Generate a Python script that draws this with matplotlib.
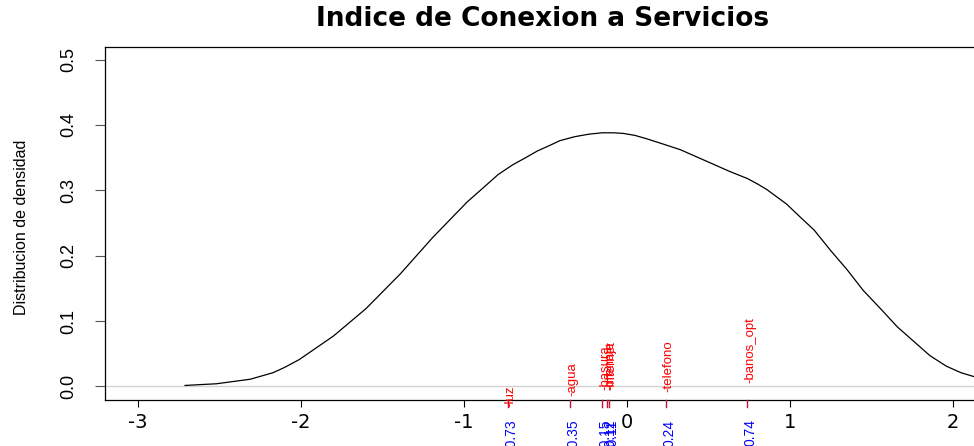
import numpy as np
import matplotlib
matplotlib.use("Agg")
import matplotlib.pyplot as plt
from matplotlib.transforms import offset_copy

plt.rcParams['font.family'] = ['DejaVu Sans']
plt.rcParams['axes.unicode_minus'] = False

NARROW = ['Liberation Sans', 'DejaVu Sans']

# Density curve
curve_x = [-2.71, -2.60, -2.52, -2.40, -2.31, -2.17, -2.10, -2.01, -1.80, -1.60,
           -1.39, -1.19, -0.98, -0.88, -0.79, -0.70, -0.62, -0.55, -0.47, -0.41,
           -0.32, -0.23, -0.15, -0.08, -0.02, 0.05, 0.12, 0.22, 0.33, 0.43,
           0.53, 0.63, 0.74, 0.80, 0.86, 0.92, 0.98, 1.06, 1.15, 1.25,
           1.35, 1.45, 1.56, 1.66, 1.76, 1.86, 1.96, 2.05, 2.13, 2.25]
curve_y = [0.0015, 0.003, 0.004, 0.008, 0.011, 0.021, 0.029, 0.041, 0.077, 0.119,
           0.172, 0.228, 0.282, 0.304, 0.324, 0.339, 0.350, 0.360, 0.369, 0.376,
           0.382, 0.386, 0.388, 0.388, 0.387, 0.384, 0.379, 0.371, 0.362, 0.351,
           0.340, 0.329, 0.318, 0.310, 0.301, 0.290, 0.279, 0.260, 0.239, 0.208,
           0.179, 0.147, 0.118, 0.091, 0.069, 0.047, 0.031, 0.021, 0.015, 0.009]

# Variables and their loadings
var_names = ["luz", "agua", "basura", "drenaje", "internet", "telefono", "banos_opt"]
var_values = [-0.73, -0.35, -0.15, -0.12, -0.11, 0.24, 0.74]
var_text = ["-0.73", "-0.35", "-0.15", "-0.12", "-0.11", "0.24", "0.74"]

x_ticks = [-3, -2, -1, 0, 1, 2]
y_ticks = [0.0, 0.1, 0.2, 0.3, 0.4, 0.5]

# label baseline heights (layout only)
label_base = [-0.032, -0.015, -0.006, -0.005, -0.005, -0.008, 0.006]

W, H = 974, 446
fig = plt.figure(figsize=(W / 100, H / 100), dpi=100)
left, right, top, bottom = 104.5, 982, 46.5, 399.5
ax = fig.add_axes([left / W, 1 - bottom / H, (right - left) / W, (bottom - top) / H])

ax.set_xlim(-3.204, 2.179)
ax.set_ylim(-0.02, 0.52)

ax.axhline(0, color="#d3d3d3", lw=1.0, zorder=1)
ax.plot(curve_x, curve_y, color="black", lw=0.9, zorder=2)

for s in ["left", "bottom", "top"]:
    ax.spines[s].set_linewidth(0.9)
ax.spines["right"].set_visible(False)

ax.set_xticks(x_ticks)
ax.set_xticklabels([str(t) for t in x_ticks], fontsize=14)
ax.tick_params(axis="x", length=5, width=0.8, pad=5)
ax.set_yticks(y_ticks)
ax.set_yticklabels(["%.1f" % t for t in y_ticks], rotation=90, va="center",
                   family=NARROW, fontsize=13)
ax.tick_params(axis="y", length=7.5, width=0.8, color="#555555", pad=12)

# rug ticks, red labels and blue values
xt = ax.get_xaxis_transform()
blue_tr = offset_copy(xt, fig=fig, x=0, y=-20, units="dots")
for name, v, lab, yb in zip(var_names, var_values, var_text, label_base):
    ax.plot([v, v], [0, -7 / (bottom - top)], transform=xt, color="#c8103c",
            lw=1.0, clip_on=False, zorder=3)
    ax.text(v + 0.018, yb, "-" + name, rotation=90, ha="center", va="bottom",
            color="red", family=NARROW, fontsize=9.5, clip_on=False)
    ax.text(v + 0.02, 0, lab, rotation=90, ha="center", va="top",
            color="blue", family=NARROW, fontsize=10, transform=blue_tr,
            clip_on=False)

fig.text(543 / W, 1 - 19 / H, "Indice de Conexion a Servicios", ha="center",
         va="center", fontsize=19, fontweight="bold")
fig.text(22 / W, 1 - 227 / H, "Distribucion de densidad", rotation=90,
         ha="center", va="center", family=NARROW, fontsize=11.5)

fig.savefig("out.png", dpi=100, facecolor="white")
